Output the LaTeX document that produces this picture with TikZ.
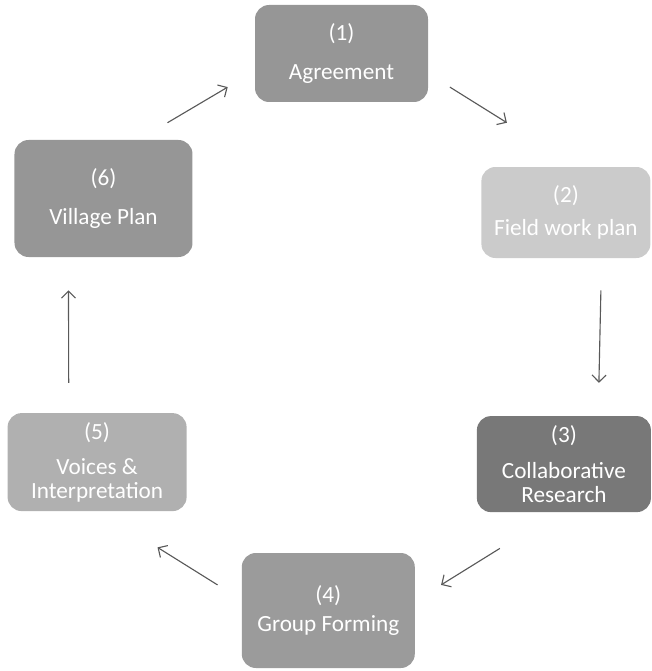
\documentclass[tikz,border=0pt]{standalone}
\usepackage{fontspec}
\newfontfamily\stagefont{Carlito}
\usepackage{tikz}
\usetikzlibrary{arrows.meta, positioning}
\definecolor{midstage}{RGB}{150,150,150}
\definecolor{lightstage}{RGB}{203,203,203}
\definecolor{darkstage}{RGB}{120,120,120}
\definecolor{softstage}{RGB}{176,176,176}
\tikzstyle{stage} = [rectangle, rounded corners=10pt, minimum
    width=4.35cm, minimum height=2.4cm, align=center, inner sep=2pt,
fill=midstage, text=white, font=\stagefont\fontsize{16.5}{17}\selectfont]
\tikzstyle{arrow} = [line width=0.8pt, draw=black!65, ->,
>={Straight Barb[length=5pt, width=10pt]}]

\begin{document}
\begin{tikzpicture}
            \useasboundingbox (-8.5375,1.3375) rectangle (7.7375,-15.4375);
            % Stages
            \node[stage, minimum width=4.325cm, minimum height=2.425cm]
            (agree) {(1)\\[11pt]Agreement};
            \node[stage, fill=lightstage, right of=agree, xshift=4.61cm,
            yshift=-3.975cm, minimum width=4.225cm, minimum height=2.275cm]
            (field) {(2)\\[7pt]Field work plan};
            \node[stage, fill=darkstage, below of=field, xshift=-0.05cm,
            yshift=-5.29cm, minimum height=2.4cm]
            (collab) {(3)\\[8pt]Collaborative\\Research};
            \node[stage, fill=midstage!95!white, left of=collab, xshift=-4.89cm,
            yshift=-3.66cm, minimum width=4.325cm, minimum height=2.875cm]
            (group) {(4)\\[3pt]Group Forming};
            \node[stage, fill=softstage, left of=group, xshift=-4.78cm,
            yshift=3.71cm, minimum width=4.475cm, minimum height=2.45cm]
            (voices) {(5)\\[8pt]Voices \&\\Interpretation};
            \node[stage, above of=voices, xshift=0.16cm, yshift=5.59cm,
            minimum width=4.45cm, minimum height=2.925cm]
            (village) {(6)\\[11pt]Village Plan};
            % Arrows
            \draw[arrow] ([shift={(0.54,-0.84)}]agree.east) --
            ([shift={(-1.475,1.1)}]field.north);
            \draw[arrow] ([shift={(0.875,-0.8)}]field.south) --
            ([shift={(0.875,0.825)}]collab.north);
            \draw[arrow] ([shift={(-1.6,-0.9)}]collab.south) --
            ([shift={(0.65,0.64)}]group.east);
            \draw[arrow] ([shift={(-0.6,0.64)}]group.west) --
            ([shift={(1.51,-0.9)}]voices.south);
            \draw[arrow] ([shift={(-0.71,0.75)}]voices.north) --
            ([shift={(-0.875,-0.825)}]village.south);
            \draw[arrow] ([shift={(1.6,0.425)}]village.north) --
            ([shift={(-0.675,-0.84)}]agree.west);

        \end{tikzpicture}
\end{document}
